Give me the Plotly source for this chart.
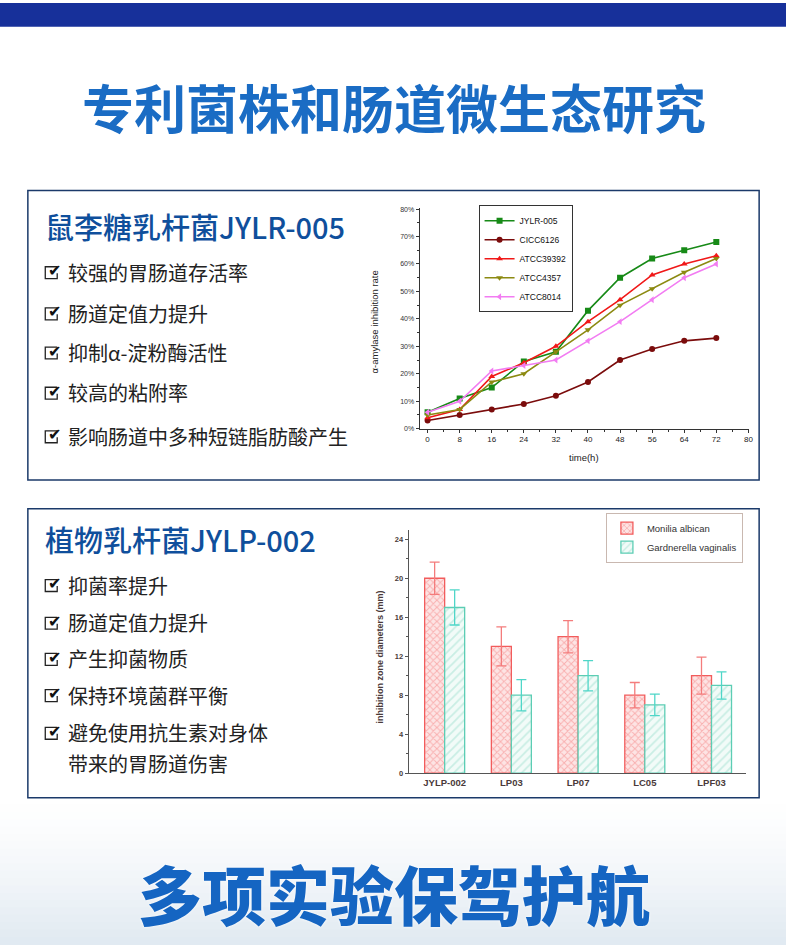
import plotly.graph_objects as go

W, H = 790, 949
def X(px): return px / W
def Y(py): return 1 - py / H

# ---------------- data ----------------
hours = [0, 8, 16, 24, 32, 40, 48, 56, 64, 72]
jylr005 = [6, 11, 15, 24.5, 28, 43, 55, 62, 65, 68]
cicc6126 = [3, 5, 7, 9, 12, 17, 25, 29, 32, 33]
atcc39392 = [4, 7, 19, 24, 30, 39, 47, 56, 60, 63]
atcc4357 = [5, 7, 17, 20, 28, 36, 45, 51, 57, 62]
atcc8014 = [6, 10, 21, 23, 25, 32, 39, 47, 55, 60]

strains = ["JYLP-002", "LP03", "LP07", "LC05", "LPF03"]
monilia = [20, 13, 14, 8, 10]
monilia_err = [1.65, 2.0, 1.65, 1.3, 1.9]
gardnerella = [17, 8, 10, 7, 9]
gardnerella_err = [1.8, 1.6, 1.55, 1.1, 1.4]

title_main = "专利菌株和肠道微生态研究"
head1 = "鼠李糖乳杆菌JYLR-005"
items1 = ["较强的胃肠道存活率", "肠道定值力提升", "抑制α-淀粉酶活性", "较高的粘附率", "影响肠道中多种短链脂肪酸产生"]
head2 = "植物乳杆菌JYLP-002"
items2 = ["抑菌率提升", "肠道定值力提升", "产生抑菌物质", "保持环境菌群平衡", "避免使用抗生素对身体", "带来的胃肠道伤害"]
footer = "多项实验保驾护航"

fig = go.Figure()

# ---------------- line chart ----------------
line_series = [
    ("JYLR-005", jylr005, "#178a17", "square"),
    ("CICC6126", cicc6126, "#7b0c0c", "circle"),
    ("ATCC39392", atcc39392, "#f01818", "triangle-up"),
    ("ATCC4357", atcc4357, "#8c8a12", "triangle-down"),
    ("ATCC8014", atcc8014, "#f27cf2", "triangle-left"),
]
for name, vals, col, sym in line_series:
    fig.add_trace(go.Scatter(
        x=hours, y=vals, name=name, mode="lines+markers",
        line=dict(color=col, width=1.6),
        marker=dict(symbol=sym, size=6, color=col),
        xaxis="x", yaxis="y", legend="legend",
    ))

# ---------------- bar chart ----------------
fig.add_trace(go.Bar(
    x=strains, y=monilia, name="Monilia albican",
    marker=dict(color="#fff0f0", line=dict(color="#f25c5c", width=1.3),
                pattern=dict(shape="x", fgcolor="#f47a7a", bgcolor="#fde4e4", size=5, solidity=0.35)),
    error_y=dict(type="data", array=monilia_err, color="#f47c7c", thickness=1.3, width=5),
    xaxis="x2", yaxis="y2", legend="legend2",
))
fig.add_trace(go.Bar(
    x=strains, y=gardnerella, name="Gardnerella vaginalis",
    marker=dict(color="#f2fbf8", line=dict(color="#5ccdb4", width=1.3),
                pattern=dict(shape="/", fgcolor="#9fe0cf", bgcolor="#f2fbf8", size=6, solidity=0.3)),
    error_y=dict(type="data", array=gardnerella_err, color="#4fd6c8", thickness=1.3, width=5),
    xaxis="x2", yaxis="y2", legend="legend2",
))

axis_font = dict(family="Liberation Sans, Arial", size=7, color="#333")

shapes = []
# bottom gradient background
n = 20
for i in range(n):
    t = (i / (n - 1)) ** 1.4
    r = int(255 - t * (255 - 225))
    g = int(255 - t * (255 - 234))
    b = int(255 - t * (255 - 242))
    y0 = 801 + i * (148 / n)
    shapes.append(dict(type="rect", xref="paper", yref="paper", layer="below",
                       x0=0, x1=1, y0=Y(y0 + 148 / n + 1), y1=Y(y0),
                       fillcolor=f"rgb({r},{g},{b})", line=dict(width=0)))
# top blue band
shapes.append(dict(type="rect", xref="paper", yref="paper", layer="below",
                   x0=0, x1=1, y0=Y(24), y1=1, fillcolor="#17309a", line=dict(width=0)))
# boxes
for (t, b) in [(189, 481), (510, 801.5)]:
    shapes.append(dict(type="rect", xref="paper", yref="paper", layer="below",
                       x0=X(28), x1=X(763), y0=Y(b), y1=Y(t),
                       fillcolor="white", line=dict(color="#1b3a6a", width=1.5)))

ann = []
ann.append(dict(text=title_main, x=X(396), y=Y(104), xref="paper", yref="paper",
                showarrow=False, xanchor="center", yanchor="middle",
                font=dict(family="Noto Sans CJK SC", size=52, color="#1a6cc4", weight=700)))
ann.append(dict(text=footer, x=X(396), y=Y(897), xref="paper", yref="paper",
                showarrow=False, xanchor="center", yanchor="middle",
                font=dict(family="Noto Sans CJK SC", size=64, color="#1565c2", weight=900,
                          shadow="0 0 3px white")))

def block(head, hy, items, ys):
    ann.append(dict(text=head, x=X(43), y=Y(hy), xref="paper", yref="paper",
                    showarrow=False, xanchor="left", yanchor="middle",
                    font=dict(family="Noto Sans CJK SC", size=29, color="#0f4f9c", weight=500)))
    for it, yy in zip(items, ys):
        ann.append(dict(text=it, x=X(66), y=Y(yy), xref="paper", yref="paper",
                        showarrow=False, xanchor="left", yanchor="middle",
                        font=dict(family="Noto Sans CJK SC", size=20, color="#222")))

block(head1, 225, items1, [271.5, 313, 352.5, 393, 437])
block(head2, 541, items2, [587, 625, 661.5, 698, 736, 767])
for yy in [271.5, 313, 352.5, 393, 437, 587, 625, 661.5, 698, 736]:
    # small box outline (left/bottom) behind the check mark
    shapes.append(dict(type="path", xref="paper", yref="paper",
                       path=f"M {X(57.5)},{Y(yy - 5.5)} L {X(45.5)},{Y(yy - 5.5)} L {X(45.5)},{Y(yy + 6.5)} L {X(57.5)},{Y(yy + 6.5)} L {X(57.5)},{Y(yy + 1)}",
                       line=dict(color="#222", width=1.3)))
    ann.append(dict(text="✔", x=X(46), y=Y(yy - 1.5), xref="paper", yref="paper",
                    showarrow=False, xanchor="left", yanchor="middle",
                    font=dict(family="DejaVu Sans", size=16, color="#111")))

# axis titles
ann.append(dict(text="α-amylase inhibition rate", x=X(376), y=Y(322), xref="paper", yref="paper",
                showarrow=False, textangle=-90, xanchor="center", yanchor="middle",
                font=dict(family="Liberation Sans, Arial", size=9.5, color="#222")))
ann.append(dict(text="time(h)", x=X(587), y=Y(458), xref="paper", yref="paper",
                showarrow=False, xanchor="center", yanchor="middle",
                font=dict(family="Liberation Sans, Arial", size=9.5, color="#222")))
ann.append(dict(text="inhibition zone diameters (mm)", x=X(382), y=Y(660), xref="paper", yref="paper",
                showarrow=False, textangle=-90, xanchor="center", yanchor="middle",
                font=dict(family="Liberation Sans, Arial", size=9, color="#4a3a3a", weight=700)))

fig.update_layout(
    width=W, height=H, autosize=False,
    margin=dict(l=0, r=0, t=0, b=0),
    paper_bgcolor="white", plot_bgcolor="rgba(0,0,0,0)",
    shapes=shapes, annotations=ann,
    barmode="group", bargap=0.4, bargroupgap=0,
    xaxis=dict(domain=[X(421.7), X(753)], range=[-2, 80.2], tickvals=hours + [80],
               showline=True, linecolor="#333", linewidth=1, ticks="outside", ticklen=3,
               tickcolor="#333", tickfont=dict(family="Liberation Sans, Arial", size=8, color="#222"),
               minor=dict(dtick=4, ticks="outside", ticklen=2, tickcolor="#333"),
               showgrid=False, zeroline=False, anchor="y"),
    yaxis=dict(domain=[Y(429.3), Y(207)], range=[0, 80.3], dtick=10, ticksuffix="%",
               showline=True, linecolor="#333", linewidth=1, ticks="outside", ticklen=3,
               tickcolor="#333", tickfont=axis_font,
               minor=dict(dtick=5, ticks="outside", ticklen=2, tickcolor="#333"),
               showgrid=False, zeroline=False, anchor="x"),
    xaxis2=dict(domain=[X(410.7), X(750)], range=[-0.54, 4.52], type="category",
                showline=True, linecolor="#555", linewidth=1, ticks="",
                tickfont=dict(family="Liberation Sans, Arial", size=9.5, color="#4a3a3a", weight=700),
                showgrid=False, zeroline=False, anchor="y2"),
    yaxis2=dict(domain=[Y(776.7), Y(531)], range=[0, 25], dtick=4,
                showline=True, linecolor="#555", linewidth=1, ticks="outside", ticklen=3,
                tickcolor="#555", tickfont=dict(family="Liberation Sans, Arial", size=7.5, color="#4a3a3a", weight=700),
                minor=dict(dtick=2, ticks="outside", ticklen=2, tickcolor="#555"),
                showgrid=False, zeroline=False, anchor="x2"),
    legend=dict(x=X(481), y=Y(204), xanchor="left", yanchor="top",
                bgcolor="white", bordercolor="#333", borderwidth=1,
                font=dict(family="Liberation Sans, Arial", size=8.5, color="#111"),
                tracegroupgap=0, itemwidth=30),
    legend2=dict(x=X(609), y=Y(514), xanchor="left", yanchor="top",
                 bgcolor="white", bordercolor="#c9b8b0", borderwidth=1,
                 font=dict(family="Liberation Sans, Arial", size=9.5, color="#333"),
                 tracegroupgap=0, itemwidth=30),
)

fig.write_html("out.html", config={"displayModeBar": False},
               post_script="document.body.style.margin='0';document.body.style.overflow='hidden';")
